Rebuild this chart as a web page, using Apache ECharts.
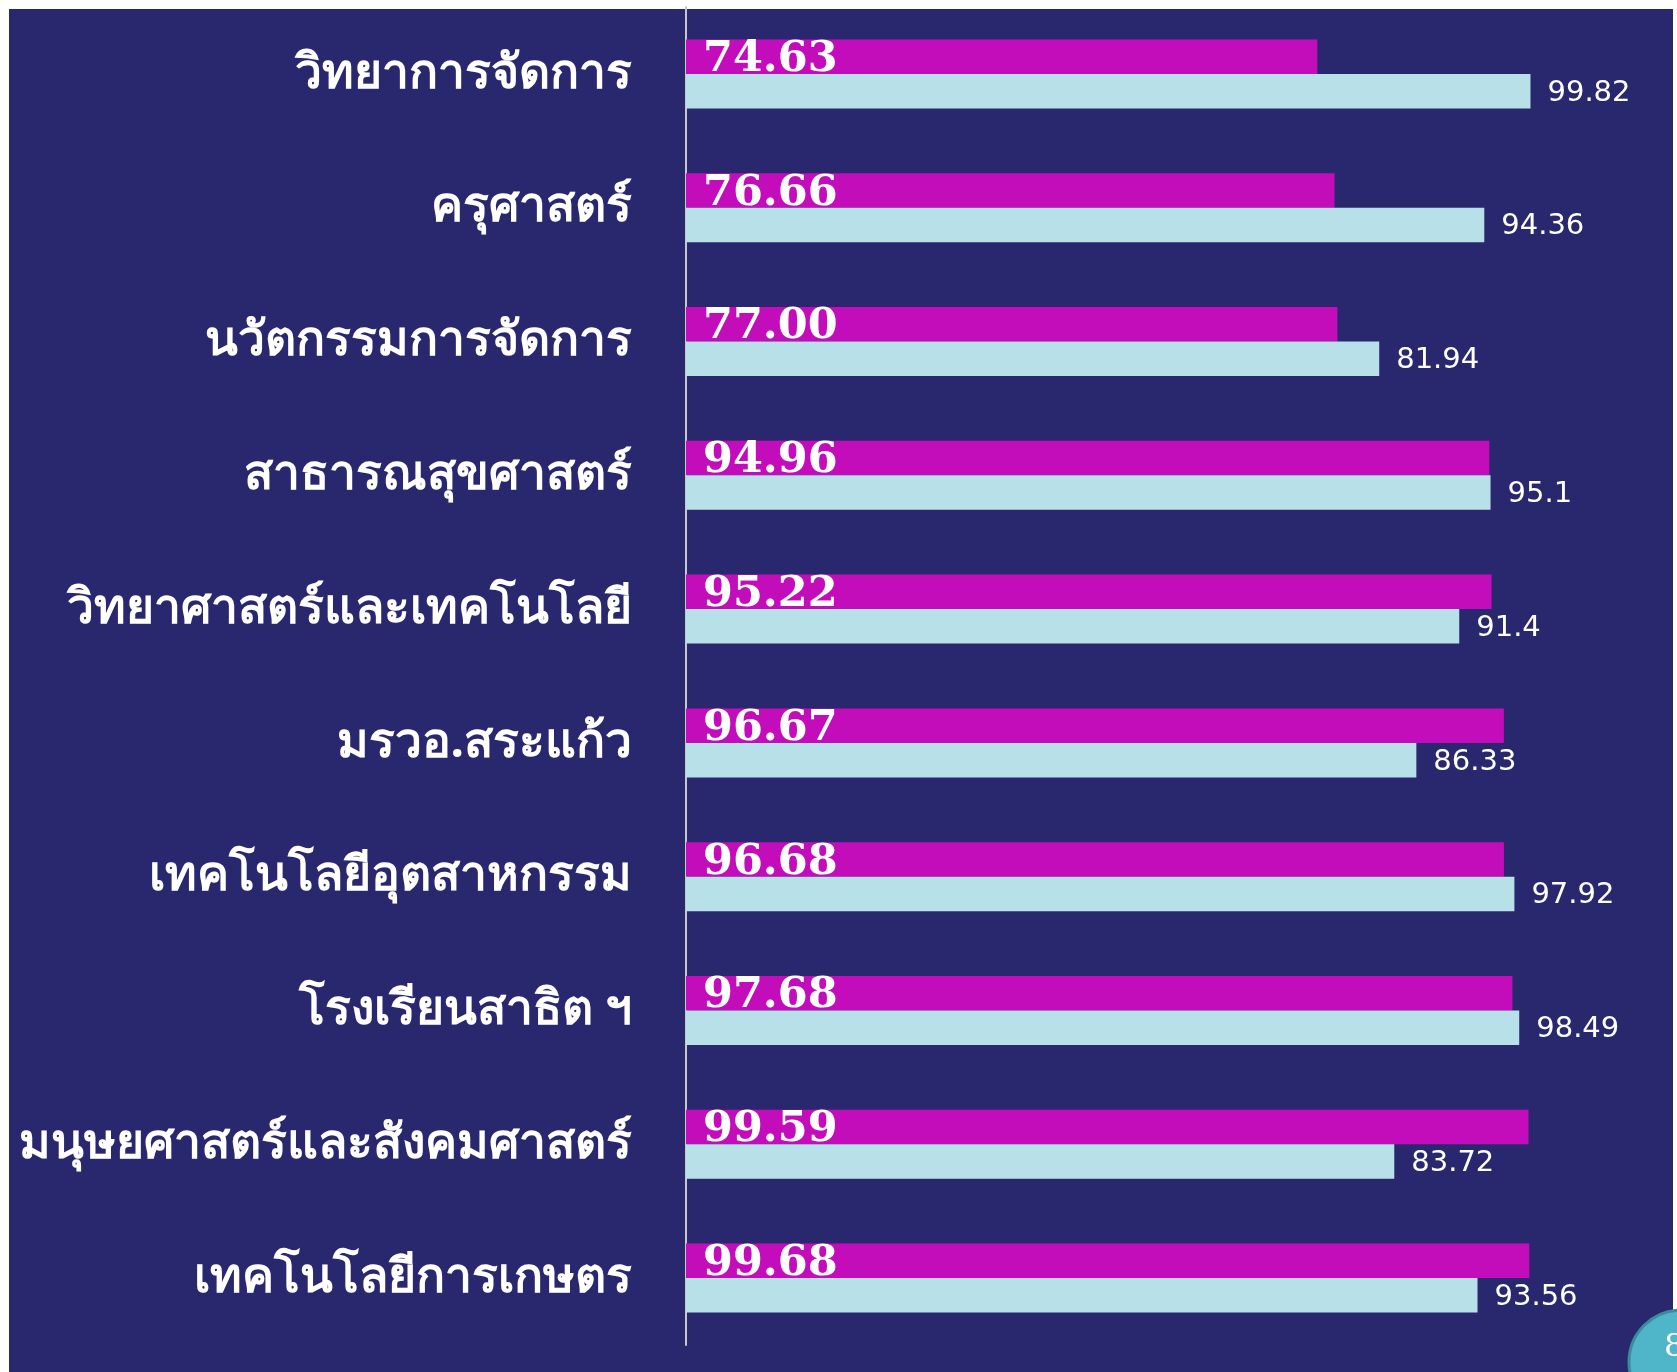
<!DOCTYPE html>
<html><head><meta charset="utf-8">
<script src="https://cdn.jsdelivr.net/npm/echarts@6/dist/echarts.min.js"></script>
<style>html,body{margin:0;padding:0;background:#fff}#c{width:1677px;height:1372px}</style>
</head><body><div id="c"></div>
<script>
const categories = ["วิทยาการจัดการ","ครุศาสตร์","นวัตกรรมการจัดการ","สาธารณสุขศาสตร์","วิทยาศาสตร์และเทคโนโลยี","มรวอ.สระแก้ว","เทคโนโลยีอุตสาหกรรม","โรงเรียนสาธิต ฯ","มนุษยศาสตร์และสังคมศาสตร์","เทคโนโลยีการเกษตร"];
const seriesA = [74.63, 76.66, 77.00, 94.96, 95.22, 96.67, 96.68, 97.68, 99.59, 99.68];
const seriesB = [99.82, 94.36, 81.94, 95.1, 91.4, 86.33, 97.92, 98.49, 83.72, 93.56];

const chart = echarts.init(document.getElementById('c'));
chart.setOption({
  backgroundColor: '#ffffff',
  animation: false,
  graphic: [
    {type:'rect', z:-10, silent:true, shape:{x:9,y:9,width:1664,height:1363}, style:{fill:'#29286f'}},
    {type:'circle', z:100, shape:{cx:1681,cy:1362,r:52}, style:{fill:'#4fb5c8', stroke:'#3b8b9b', lineWidth:3}},
    {type:'text', z:101, style:{x:1664,y:1332,text:'8',fill:'#ffffff',font:'32px "DejaVu Serif"'}}
  ],
  grid: {left: 686, right: 145, top: 7, bottom: 27, containLabel: false},
  xAxis: {type:'value', min:0, max:100, show:false},
  yAxis: {
    type:'category', data: categories, inverse: true,
    axisLine:{show:true, lineStyle:{color:'#c8c8cc', width:2}},
    axisTick:{show:false},
    axisLabel:{color:'#ffffff', fontSize:48, fontWeight:'bold', margin:54, fontFamily:'"Noto Sans", sans-serif'}
  },
  series: [
    {type:'bar', data: seriesA, barWidth:34.5, barGap:'0%', itemStyle:{color:'#c30dbb'},
     label:{show:true, position:'insideLeft', distance:17, offset:[0,3], color:'#ffffff', fontSize:43, fontWeight:'bold', fontFamily:'"DejaVu Serif", serif',
       formatter: p => p.value.toFixed(2)}},
    {type:'bar', data: seriesB, barWidth:34.5, itemStyle:{color:'#b8e0e8'},
     label:{show:true, position:'right', distance:17, offset:[0,2], color:'#ffffff', fontSize:29, fontFamily:'"DejaVu Sans", sans-serif'}}
  ]
});
</script></body></html>
